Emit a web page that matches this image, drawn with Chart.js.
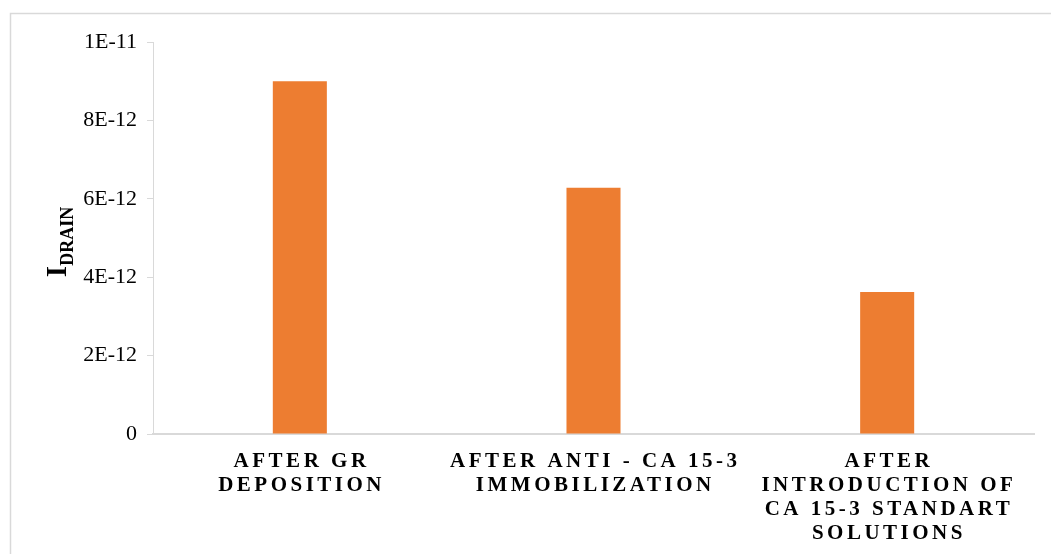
<!DOCTYPE html>
<html>
<head>
<meta charset="utf-8">
<script src="https://cdn.jsdelivr.net/npm/chart.js@4"></script>
<style>
html,body{margin:0;padding:0;background:#fff;}
#wrap{width:1051px;height:554px;position:relative;}
canvas{display:block;}
</style>
</head>
<body>
<div id="wrap"><canvas id="c" width="1051" height="554"></canvas></div>
<script>
const categories = [
  ["AFTER GR", "DEPOSITION"],
  ["AFTER ANTI - CA 15-3", "IMMOBILIZATION"],
  ["AFTER", "INTRODUCTION OF", "CA 15-3 STANDART", "SOLUTIONS"]
];
const drainValues = [9.0e-12, 6.28e-12, 3.62e-12];
const yTickLabels = ["0", "2E-12", "4E-12", "6E-12", "8E-12", "1E-11"];
const yTitleMain = "I";
const yTitleSub = "DRAIN";

const SERIF = "'Liberation Serif', 'Times New Roman', serif";

const framePlugin = {
  id: 'frame',
  beforeDraw(chart) {
    const ctx = chart.ctx;
    ctx.save();
    ctx.fillStyle = '#fff';
    ctx.fillRect(0, 0, chart.width, chart.height);
    ctx.strokeStyle = '#d9d9d9';
    ctx.lineWidth = 1.5;
    ctx.beginPath();
    ctx.moveTo(1060, 13.5);
    ctx.lineTo(10.5, 13.5);
    ctx.lineTo(10.5, 560);
    ctx.stroke();
    ctx.restore();
  },
  afterDraw(chart) {
    const ctx = chart.ctx;
    const xs = chart.scales.x;
    // category labels
    ctx.save();
    ctx.fillStyle = '#000';
    ctx.font = "bold 21px " + SERIF;
    ctx.textAlign = 'center';
    ctx.textBaseline = 'middle';
    if ('letterSpacing' in ctx) ctx.letterSpacing = '3.5px';
    categories.forEach((lines, i) => {
      const cx = xs.getPixelForValue(i) + 1.75;
      lines.forEach((ln, j) => {
        ctx.fillText(ln, cx, 462 + j * 24);
      });
    });
    ctx.restore();
    // y title
    ctx.save();
    ctx.fillStyle = '#000';
    ctx.translate(66, 242);
    ctx.rotate(-Math.PI / 2);
    ctx.textBaseline = 'alphabetic';
    ctx.textAlign = 'left';
    ctx.font = "bold 29px " + SERIF;
    const w1 = ctx.measureText(yTitleMain).width;
    ctx.font = "bold 18px " + SERIF;
    const w2 = ctx.measureText(yTitleSub).width;
    const start = -(w1 + w2) / 2;
    ctx.font = "bold 29px " + SERIF;
    ctx.fillText(yTitleMain, start, 0);
    ctx.font = "bold 18px " + SERIF;
    ctx.fillText(yTitleSub, start + w1, 7);
    ctx.restore();
  }
};

new Chart(document.getElementById('c'), {
  type: 'bar',
  data: {
    labels: categories,
    datasets: [{
      data: drainValues,
      backgroundColor: '#ED7D31',
      borderWidth: 0,
      categoryPercentage: 1.0,
      barPercentage: 0.184
    }]
  },
  options: {
    responsive: false,
    animation: false,
    devicePixelRatio: 1,
    layout: { padding: { left: 0, right: 17, top: 42, bottom: 120 } },
    plugins: { legend: { display: false }, tooltip: { enabled: false } },
    scales: {
      x: {
        ticks: { display: false },
        grid: { display: false, drawTicks: false },
        border: { display: true, color: '#d9d9d9', width: 2 },
        afterFit(s) { s.height = 0; }
      },
      y: {
        min: 0,
        max: 1e-11,
        afterBuildTicks(s) {
          s.ticks = yTickLabels.map((t, i) => ({ value: i * 2e-12 }));
        },
        ticks: {
          callback: (v, i) => yTickLabels[i],
          color: '#000',
          font: { family: SERIF, size: 22 },
          padding: 10
        },
        grid: { drawOnChartArea: false, drawTicks: true, tickLength: 6, color: '#d9d9d9' },
        border: { display: true, color: '#d9d9d9', width: 1 },
        afterFit(s) { s.width = 153; }
      }
    }
  },
  plugins: [framePlugin]
});
</script>
</body>
</html>
